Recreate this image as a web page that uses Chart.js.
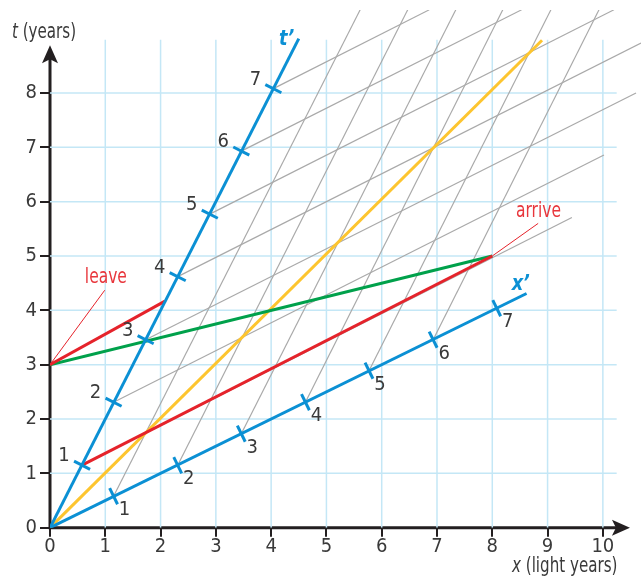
<!DOCTYPE html>
<html>
<head>
<meta charset="utf-8">
<script src="https://cdn.jsdelivr.net/npm/chart.js@4.4.1/dist/chart.umd.min.js"></script>
<style>
  html, body { margin: 0; padding: 0; background: #fff; }
  #wrap { width: 641px; height: 577px; }
</style>
</head>
<body>
<div id="wrap"><canvas id="chart" width="641" height="577"></canvas></div>
<script>
// axis ticks
const xTicks = [0, 1, 2, 3, 4, 5, 6, 7, 8, 9, 10];
const tTicks = [0, 1, 2, 3, 4, 5, 6, 7, 8];
const gridX = [1, 2, 3, 4, 5, 6, 7, 8, 9, 10];
const gridT = [1, 2, 3, 4, 5, 6, 7, 8];

// moving frame: tick marks on t' and x'
const primeLabels = ['1', '2', '3', '4', '5', '6', '7'];
const tPrimeX = [0.58, 1.15, 1.73, 2.31, 2.89, 3.46, 4.04];
const tPrimeT = [1.15, 2.31, 3.46, 4.62, 5.77, 6.93, 8.08];
const xPrimeX = [1.15, 2.31, 3.46, 4.62, 5.77, 6.93, 8.08];
const xPrimeT = [0.58, 1.15, 1.73, 2.31, 2.89, 3.46, 4.04];

// grey lines of constant t' (they start at the t' ticks)
const simEndX = [9.44, 10.02, 10.6, 10.69, 10.2, 8.53, 6.86];
const simEndT = [5.71, 6.86, 8.0, 8.92, 9.53, 9.53, 9.53];
// grey lines of constant x' (they start at x' ticks 1-6)
const worldEndX = [5.61, 6.47, 7.34, 8.19, 9.06, 9.93];
const worldEndT = [9.53, 9.53, 9.53, 9.53, 9.53, 9.53];

// coloured lines
const tAxisX = [0, 4.5], tAxisT = [0, 9.0];
const xAxisX = [0, 8.62], xAxisT = [0, 4.31];
const lightX = [0, 8.9], lightT = [0, 8.97];
const greenX = [0, 8], greenT = [3, 5];
const redX = [0.58, 8], redT = [1.15, 5];
const leaveX = [0, 2.08], leaveT = [3, 4.17];
const leavePtrX = [0, 0.99], leavePtrT = [3, 4.37];
const arrivePtrX = [8, 8.83], arrivePtrT = [5, 5.6];

const FONT = "'Liberation Sans Narrow', 'DejaVu Sans Condensed', 'Liberation Sans', sans-serif";
const INK = '#231f20';
const TEXT = '#3a3a3a';
const BLUE = '#0b90d4';
const RED = '#e5232b';
const GREEN = '#00a14b';
const YELLOW = '#fdc52f';
const GREY = '#a9a9a9';
const GRID = '#c4e7f6';

const pts = (xs, ts) => xs.map((x, i) => ({x, y: ts[i]}));
const seg = (data, color, width, order) => ({
  data, showLine: true, borderColor: color, borderWidth: width,
  pointRadius: 0, order, borderCapStyle: 'butt'
});

const datasets = [];
gridX.forEach(v => datasets.push(seg(pts([v, v], [0, 8.98]), GRID, 1.5, 9)));
gridT.forEach(v => datasets.push(seg(pts([0, 10.25], [v, v]), GRID, 1.5, 9)));
tPrimeX.forEach((x, i) => datasets.push(seg(pts([x, simEndX[i]], [tPrimeT[i], simEndT[i]]), GREY, 1.2, 8)));
worldEndX.forEach((x, i) => datasets.push(seg(pts([xPrimeX[i], x], [xPrimeT[i], worldEndT[i]]), GREY, 1.2, 8)));
datasets.push(seg(pts(lightX, lightT), YELLOW, 3, 6));
datasets.push(seg(pts(greenX, greenT), GREEN, 3, 5));
datasets.push(seg(pts(redX, redT), RED, 3, 4));
datasets.push(seg(pts(leaveX, leaveT), RED, 3, 4));
datasets.push(seg(pts(leavePtrX, leavePtrT), RED, 1, 4));
datasets.push(seg(pts(arrivePtrX, arrivePtrT), RED, 1, 4));
datasets.push(seg(pts(tAxisX, tAxisT), BLUE, 3, 2));
datasets.push(seg(pts(xAxisX, xAxisT), BLUE, 3, 2));
datasets.push({
  data: pts(tPrimeX, tPrimeT), showLine: false, pointStyle: 'line', rotation: 27,
  pointRadius: 9, borderColor: BLUE, borderWidth: 3, order: 1
});
datasets.push({
  data: pts(xPrimeX, xPrimeT), showLine: false, pointStyle: 'line', rotation: 64,
  pointRadius: 9, borderColor: BLUE, borderWidth: 3, order: 1
});

// draws text pieces one after another, squeezed horizontally by sx
function squeezed(ctx, parts, x, y, sx) {
  ctx.save();
  ctx.translate(x, y);
  ctx.scale(sx, 1);
  let off = 0;
  parts.forEach(([txt, font]) => {
    ctx.font = font;
    ctx.fillText(txt, off, 0);
    off += ctx.measureText(txt).width;
  });
  ctx.restore();
}

const decor = {
  id: 'decor',
  beforeDatasetsDraw(chart) {
    const {ctx, scales: {x, y}} = chart;
    const x0 = x.getPixelForValue(0), y0 = y.getPixelForValue(0);
    const xTip = x.getPixelForValue(10.49), yTip = y.getPixelForValue(8.88);
    ctx.save();
    ctx.strokeStyle = INK; ctx.fillStyle = INK; ctx.lineWidth = 3;
    ctx.beginPath();
    ctx.moveTo(x0 - 1.5, y0); ctx.lineTo(xTip - 12, y0);
    ctx.moveTo(x0, y0 + 1.5); ctx.lineTo(x0, yTip + 12);
    ctx.stroke();
    ctx.beginPath();
    ctx.moveTo(xTip, y0); ctx.lineTo(xTip - 18, y0 - 8); ctx.lineTo(xTip - 14, y0); ctx.lineTo(xTip - 18, y0 + 8);
    ctx.closePath(); ctx.fill();
    ctx.beginPath();
    ctx.moveTo(x0, yTip); ctx.lineTo(x0 - 8, yTip + 18); ctx.lineTo(x0, yTip + 14); ctx.lineTo(x0 + 8, yTip + 18);
    ctx.closePath(); ctx.fill();
    ctx.restore();
  },
  afterDatasetsDraw(chart) {
    const {ctx, scales: {x, y}} = chart;
    ctx.save();
    ctx.fillStyle = TEXT;
    ctx.textAlign = 'center'; ctx.textBaseline = 'middle';
    ctx.font = `20px ${FONT}`;
    primeLabels.forEach((lab, i) => {
      ctx.fillText(lab, x.getPixelForValue(tPrimeX[i]) - 18, y.getPixelForValue(tPrimeT[i]) - 9);
      ctx.fillText(lab, x.getPixelForValue(xPrimeX[i]) + 11, y.getPixelForValue(xPrimeT[i]) + 14);
    });
    ctx.textAlign = 'left'; ctx.textBaseline = 'alphabetic';
    ctx.fillStyle = BLUE;
    const bi = `bold italic 22px ${FONT}`;
    squeezed(ctx, [['t\u2019', bi]], x.getPixelForValue(4.14), y.getPixelForValue(8.88), 0.9);
    squeezed(ctx, [['x\u2019', bi]], x.getPixelForValue(8.35), y.getPixelForValue(4.38), 0.9);
    ctx.fillStyle = '#e8363c';
    const reg = `21px ${FONT}`, it = `italic 21px ${FONT}`;
    squeezed(ctx, [['leave', reg]], x.getPixelForValue(0.63), y.getPixelForValue(4.5), 0.82);
    squeezed(ctx, [['arrive', reg]], x.getPixelForValue(8.43), y.getPixelForValue(5.71), 0.82);
    ctx.fillStyle = TEXT;
    squeezed(ctx, [['t', it], [' (years)', reg]], 12, 38, 0.8);
    squeezed(ctx, [['x', it], [' (light years)', reg]], 512, 572, 0.8);
    ctx.restore();
  }
};

const tickFont = {family: FONT, size: 20, lineHeight: 1};

new Chart(document.getElementById('chart'), {
  type: 'scatter',
  data: {datasets},
  options: {
    responsive: false,
    animation: false,
    events: [],
    layout: {autoPadding: false, padding: {top: 10, left: 0, right: 0, bottom: 0}},
    plugins: {legend: {display: false}, tooltip: {enabled: false}},
    scales: {
      x: {
        type: 'linear', min: 0, max: 10.69,
        afterBuildTicks: s => { s.ticks = xTicks.map(v => ({value: v})); },
        grid: {display: true, drawOnChartArea: false, drawTicks: true, tickLength: 9, color: INK, lineWidth: 2},
        border: {display: false},
        ticks: {font: tickFont, color: TEXT, padding: 0, maxRotation: 0, autoSkip: false},
        afterFit: s => { s.height = 49.3; s.paddingLeft = 0; s.paddingRight = 0; }
      },
      y: {
        type: 'linear', min: 0, max: 9.527,
        afterBuildTicks: s => { s.ticks = tTicks.map(v => ({value: v})); },
        grid: {display: true, drawOnChartArea: false, drawTicks: true, tickLength: 10, color: INK, lineWidth: 2},
        border: {display: false},
        ticks: {font: tickFont, color: TEXT, padding: 3, autoSkip: false},
        afterFit: s => { s.width = 50; s.paddingTop = 0; s.paddingBottom = 0; }
      }
    }
  },
  plugins: [decor]
});
</script>
</body>
</html>
